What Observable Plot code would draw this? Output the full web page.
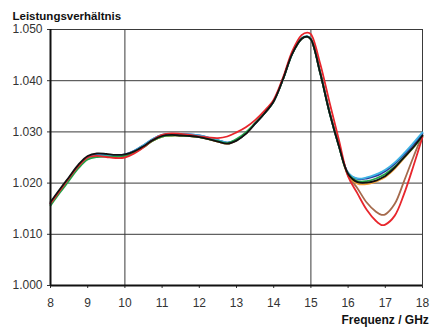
<!DOCTYPE html>
<html>
<head>
<meta charset="utf-8">
<script src="https://cdn.jsdelivr.net/npm/d3@7"></script>
<script src="https://cdn.jsdelivr.net/npm/@observablehq/plot@0.6"></script>
<style>
  body { margin: 0; background: #fff; }
  #chart svg { display: block; }
</style>
</head>
<body>
<div id="chart"></div>
<script>
const titleText = "Leistungsverhältnis";
const xLabelText = "Frequenz / GHz";
const xTicks = [8, 9, 10, 11, 12, 13, 14, 15, 16, 17, 18];
const yTicks = [1.000, 1.010, 1.020, 1.030, 1.040, 1.050];
const xGrid = [10, 15, 18];
const yGrid = [1.010, 1.020, 1.030, 1.040, 1.050];

const freq = [8, 8.25, 8.5, 8.75, 9, 9.25, 9.5, 9.75, 10, 10.25, 10.5, 10.75, 11, 11.25, 11.5, 11.75, 12, 12.25, 12.5, 12.75, 13, 13.25, 13.5, 13.75, 14, 14.25, 14.5, 14.75, 14.9, 15, 15.25, 15.5, 15.75, 16, 16.25, 16.5, 16.75, 16.9, 17, 17.25, 17.5, 17.75, 18];

const seriesBrown = [1.0161, 1.0186, 1.0210, 1.0234, 1.0251, 1.0256, 1.0255, 1.0253, 1.0254, 1.0261, 1.0271, 1.0283, 1.0291, 1.0293, 1.0293, 1.0292, 1.0290, 1.0286, 1.0281, 1.0277, 1.0283, 1.0296, 1.0316, 1.0336, 1.0360, 1.0403, 1.0453, 1.0482, 1.0486, 1.0481, 1.0417, 1.0340, 1.0275, 1.0215, 1.0190, 1.0162, 1.0144, 1.0138, 1.0139, 1.0159, 1.0203, 1.0250, 1.0294];
const seriesOrange = [1.0158, 1.0184, 1.0208, 1.0232, 1.0250, 1.0255, 1.0254, 1.0253, 1.0254, 1.0261, 1.0271, 1.0283, 1.0291, 1.0293, 1.0293, 1.0292, 1.0290, 1.0286, 1.0281, 1.0277, 1.0284, 1.0297, 1.0316, 1.0336, 1.0360, 1.0403, 1.0453, 1.0482, 1.0486, 1.0481, 1.0415, 1.0338, 1.0273, 1.0216, 1.0199, 1.0198, 1.0203, 1.0208, 1.0212, 1.0228, 1.0248, 1.0269, 1.0292];
const seriesBlue = [1.0160, 1.0185, 1.0210, 1.0233, 1.0250, 1.0255, 1.0255, 1.0254, 1.0256, 1.0263, 1.0274, 1.0286, 1.0294, 1.0296, 1.0296, 1.0295, 1.0293, 1.0289, 1.0284, 1.0279, 1.0284, 1.0297, 1.0316, 1.0336, 1.0360, 1.0403, 1.0453, 1.0482, 1.0486, 1.0481, 1.0415, 1.0338, 1.0273, 1.0220, 1.0208, 1.0209, 1.0214, 1.0219, 1.0223, 1.0237, 1.0255, 1.0275, 1.0297];
const seriesCyan = [1.0159, 1.0184, 1.0209, 1.0232, 1.0249, 1.0254, 1.0254, 1.0253, 1.0255, 1.0263, 1.0274, 1.0286, 1.0294, 1.0296, 1.0296, 1.0295, 1.0293, 1.0289, 1.0284, 1.0279, 1.0284, 1.0297, 1.0316, 1.0336, 1.0360, 1.0403, 1.0453, 1.0483, 1.0487, 1.0482, 1.0416, 1.0339, 1.0274, 1.0220, 1.0209, 1.0211, 1.0217, 1.0222, 1.0226, 1.0240, 1.0258, 1.0278, 1.0299];
const seriesGreen = [1.0156, 1.0181, 1.0205, 1.0229, 1.0246, 1.0251, 1.0252, 1.0251, 1.0253, 1.0260, 1.0270, 1.0283, 1.0291, 1.0293, 1.0293, 1.0292, 1.0290, 1.0286, 1.0282, 1.0278, 1.0286, 1.0299, 1.0317, 1.0336, 1.0360, 1.0403, 1.0453, 1.0482, 1.0486, 1.0481, 1.0415, 1.0338, 1.0273, 1.0218, 1.0204, 1.0204, 1.0209, 1.0214, 1.0218, 1.0232, 1.0250, 1.0269, 1.0291];
const seriesRed = [1.0160, 1.0185, 1.0210, 1.0233, 1.0250, 1.0253, 1.0251, 1.0249, 1.0250, 1.0258, 1.0270, 1.0284, 1.0294, 1.0297, 1.0296, 1.0294, 1.0291, 1.0289, 1.0288, 1.0291, 1.0299, 1.0309, 1.0323, 1.0341, 1.0363, 1.0406, 1.0458, 1.0489, 1.0494, 1.0491, 1.0433, 1.0358, 1.0285, 1.0213, 1.0180, 1.0148, 1.0126, 1.0118, 1.0119, 1.0136, 1.0178, 1.0232, 1.0290];
const seriesBlack = [1.0163, 1.0188, 1.0212, 1.0236, 1.0253, 1.0258, 1.0257, 1.0255, 1.0256, 1.0262, 1.0272, 1.0284, 1.0292, 1.0294, 1.0293, 1.0292, 1.0290, 1.0286, 1.0281, 1.0277, 1.0283, 1.0296, 1.0316, 1.0336, 1.0360, 1.0403, 1.0453, 1.0482, 1.0486, 1.0481, 1.0415, 1.0338, 1.0273, 1.0218, 1.0202, 1.0201, 1.0205, 1.0210, 1.0214, 1.0230, 1.0250, 1.0270, 1.0293];

const seriesList = [
  {values: seriesBrown, color: "#a56a4c"},
  {values: seriesOrange, color: "#f5a23a"},
  {values: seriesBlue, color: "#2b3a9e"},
  {values: seriesCyan, color: "#3fb3e3"},
  {values: seriesGreen, color: "#22a348"},
  {values: seriesRed, color: "#e8262c"},
  {values: seriesBlack, color: "#111111"}
];

const lineMarks = seriesList.map(s =>
  Plot.line(freq.map((f, i) => ({f, v: s.values[i]})), {
    x: "f", y: "v", stroke: s.color, strokeWidth: 1.8, curve: "catmull-rom"
  })
);

const chart = Plot.plot({
  width: 431,
  height: 336,
  marginLeft: 50,
  marginRight: 9,
  marginTop: 29,
  marginBottom: 51,
  style: {fontFamily: "'Liberation Sans', Arial, sans-serif", fontSize: "12px", color: "#333", background: "#fff"},
  x: {domain: [8, 18]},
  y: {domain: [1.000, 1.050]},
  marks: [
    Plot.ruleY(yGrid, {stroke: "#3a3a3a", strokeWidth: 1}),
    Plot.ruleX(xGrid, {stroke: "#3a3a3a", strokeWidth: 1}),
    Plot.axisY({ticks: yTicks, tickSize: 3, tickPadding: 5, tickFormat: d3.format(".3f"), label: null, fontSize: 12}),
    Plot.axisX({ticks: xTicks, tickSize: 3, tickPadding: 10, tickFormat: d => String(d), label: null, fontSize: 12}),
    ...lineMarks,
    Plot.ruleY([1.000], {stroke: "#111", strokeWidth: 2}),
    Plot.ruleX([8], {stroke: "#111", strokeWidth: 2}),
    Plot.text([titleText], {frameAnchor: "top-left", dx: -38, dy: -18, textAnchor: "start", fontWeight: "bold", fontSize: 11.5, fill: "#111"}),
    Plot.text([xLabelText], {frameAnchor: "bottom-right", dx: -81, dy: 38, textAnchor: "start", fontWeight: "bold", fontSize: 12, fill: "#111"})
  ]
});
document.getElementById("chart").appendChild(chart);
</script>
</body>
</html>
